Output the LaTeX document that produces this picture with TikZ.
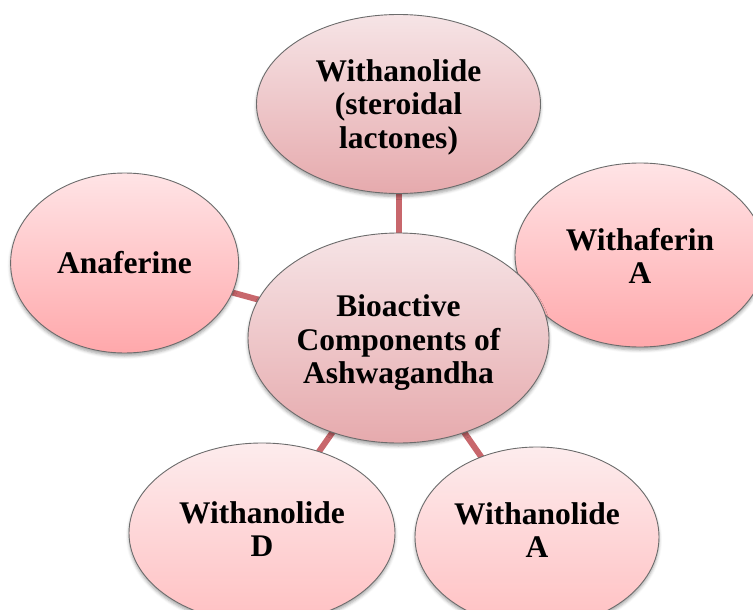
\documentclass[tikz,border=0pt]{standalone}
\usepackage{fontspec}
\setmainfont{Liberation Serif}
\usetikzlibrary{shapes.geometric,shadows.blur,backgrounds}

\definecolor{linkred}{HTML}{C8676C}
\definecolor{edgegray}{HTML}{6C6C6C}
\definecolor{hubtop}{HTML}{F6E4E6}
\definecolor{hubbot}{HTML}{E6AAAD}
\definecolor{hottop}{HTML}{FFE4E6}
\definecolor{hotbot}{HTML}{FFA8AB}
\definecolor{softtop}{HTML}{FDECED}
\definecolor{softbot}{HTML}{FFC0C2}

\begin{document}
\begin{tikzpicture}[x=1pt,y=-1pt,
  bubble/.style={ellipse, draw=edgegray, line width=0.9pt, inner sep=0pt,
    blur shadow={shadow xshift=0pt, shadow yshift=-3pt,
      shadow blur radius=3pt, shadow opacity=35}},
  hub/.style={bubble, top color=hubtop, bottom color=hubbot},
  hot/.style={bubble, top color=hottop, bottom color=hotbot},
  soft/.style={bubble, top color=softtop, bottom color=softbot},
  caption/.style={align=center, inner sep=0pt,
    font=\fontsize{31.5}{33.5}\selectfont\bfseries},
  link/.style={draw=linkred, line width=6pt}
]
\clip (0,0) rectangle (753,610);

% outer ring of components
\node[hot, minimum width=250pt, minimum height=184pt] (wfa) at (640,255) {};
\node[hub, minimum width=284pt, minimum height=179pt] (wst) at (398.5,104) {};
\node[hot, minimum width=228pt, minimum height=180pt] (ana) at (124.6,263) {};
\node[soft, minimum width=266pt, minimum height=180pt] (wnd) at (262,533) {};
\node[soft, minimum width=244pt, minimum height=180pt] (wna) at (537,537) {};

% central topic
\node[hub, minimum width=301pt, minimum height=210pt] (core) at (398.5,338) {};

% captions
\node[caption] (wfa-t)  at (640,256)   {Withaferin\\A};
\node[caption] (wst-t)  at (398.5,107) {Withanolide\\(steroidal\\lactones)};
\node[caption] (ana-t)  at (124.6,263) {Anaferine};
\node[caption] (wnd-t)  at (262,529)   {Withanolide\\D};
\node[caption] (wna-t)  at (537,530)   {Withanolide\\A};
\node[caption] (core-t) at (398.5,343) {Bioactive\\Components of\\Ashwagandha};

% spokes behind the bubbles
\begin{scope}[on background layer]
  \draw[link] (core.center) -- (wst.center);
  \draw[link] (core.center) -- (ana.center);
  \draw[link] (core.center) -- (wnd.center);
  \draw[link] (core.center) -- (wna.center);
\end{scope}
\end{tikzpicture}
\end{document}
